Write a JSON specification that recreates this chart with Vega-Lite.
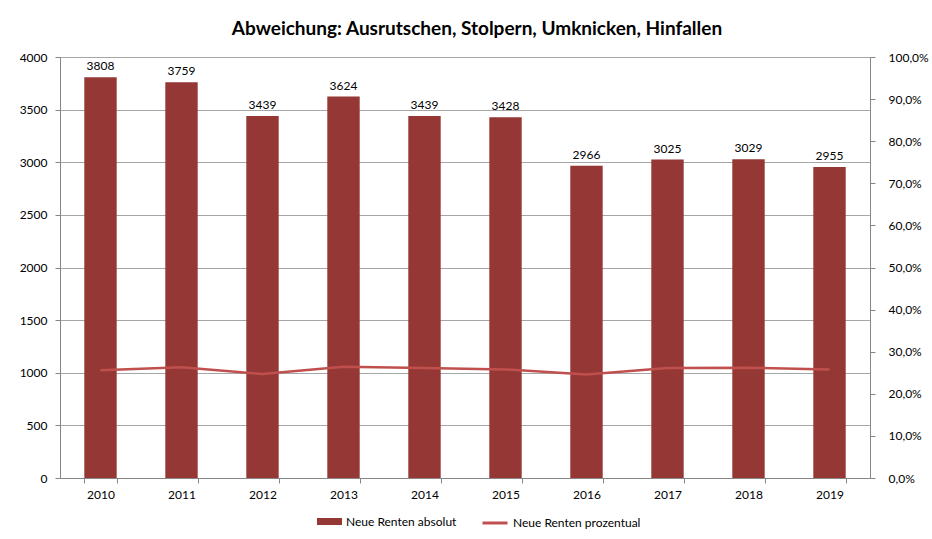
{
  "$schema": "https://vega.github.io/schema/vega-lite/v6.json",
  "width": 810,
  "height": 421,
  "autosize": {"type": "none"},
  "padding": {"left": 60, "top": 57, "right": 62, "bottom": 61},
  "background": "white",
  "config": {
    "font": "Lato",
    "view": {"stroke": null},
    "axis": {"labelFont": "Lato", "labelFontSize": 12, "labelColor": "#000000", "domainColor": "#868686", "tickColor": "#868686", "gridColor": "#a6a6a6", "titleFontSize": 12},
    "legend": {"labelFont": "Lato", "labelFontSize": 12, "labelColor": "#000000", "padding": 0}
  },
  "title": {"text": "Abweichung: Ausrutschen, Stolpern, Umknicken, Hinfallen", "font": "Lato", "fontSize": 19, "fontWeight": "bold", "color": "#000000", "anchor": "middle", "dx": 12, "offset": 12},
  "data": {"values": [
    {"Jahr": "2010", "absolut": 3808, "prozent": 0.256},
    {"Jahr": "2011", "absolut": 3759, "prozent": 0.263},
    {"Jahr": "2012", "absolut": 3439, "prozent": 0.247},
    {"Jahr": "2013", "absolut": 3624, "prozent": 0.264},
    {"Jahr": "2014", "absolut": 3439, "prozent": 0.261},
    {"Jahr": "2015", "absolut": 3428, "prozent": 0.258},
    {"Jahr": "2016", "absolut": 2966, "prozent": 0.246},
    {"Jahr": "2017", "absolut": 3025, "prozent": 0.261},
    {"Jahr": "2018", "absolut": 3029, "prozent": 0.262},
    {"Jahr": "2019", "absolut": 2955, "prozent": 0.258}
  ]},
  "encoding": {
    "x": {"field": "Jahr", "type": "ordinal", "scale": {"paddingInner": 0.6, "paddingOuter": 0.3},
      "axis": {"title": null, "labelAngle": 0, "tickBand": "extent", "labelPadding": 6, "tickSize": 5, "grid": false}}
  },
  "layer": [
    {
      "layer": [
        {
          "mark": {"type": "bar", "color": "#953735"},
          "encoding": {
            "y": {"field": "absolut", "type": "quantitative", "scale": {"domain": [0, 4000]},
              "axis": {"title": null, "format": "d", "values": [0, 500, 1000, 1500, 2000, 2500, 3000, 3500, 4000], "grid": true, "tickSize": 5, "labelPadding": 8}},
            "fill": {"datum": "Neue Renten absolut", "scale": {"range": ["#953735"]},
              "legend": {"title": null, "orient": "none", "legendX": 257, "legendY": 452, "symbolType": "M-1,-0.28L1,-0.28L1,0.28L-1,0.28Z", "symbolSize": 625, "symbolStrokeWidth": 0, "labelFontSize": 12, "labelOffset": 4}}
          }
        },
        {
          "mark": {"type": "text", "dy": -11, "fontSize": 12, "color": "#000000", "font": "Lato"},
          "encoding": {
            "y": {"field": "absolut", "type": "quantitative"},
            "text": {"field": "absolut", "type": "quantitative", "format": "d"}
          }
        }
      ]
    },
    {
      "mark": {"type": "line", "strokeWidth": 2.5},
      "encoding": {
        "y": {"field": "prozent", "type": "quantitative", "scale": {"domain": [0, 1]},
          "axis": {"title": null, "orient": "right", "values": [0, 0.1, 0.2, 0.3, 0.4, 0.5, 0.6, 0.7, 0.8, 0.9, 1], "grid": false, "tickSize": 5, "labelPadding": 13,
            "labelExpr": "replace(format(datum.value, '.1%'), '.', ',')"}},
        "stroke": {"datum": "Neue Renten prozentual", "scale": {"range": ["#c0504d"]},
          "legend": {"title": null, "orient": "none", "legendX": 421, "legendY": 452, "symbolType": "stroke", "symbolSize": 625, "symbolStrokeWidth": 3, "labelFontSize": 12, "labelOffset": 4}}
      }
    }
  ],
  "resolve": {"scale": {"y": "independent"}}
}
